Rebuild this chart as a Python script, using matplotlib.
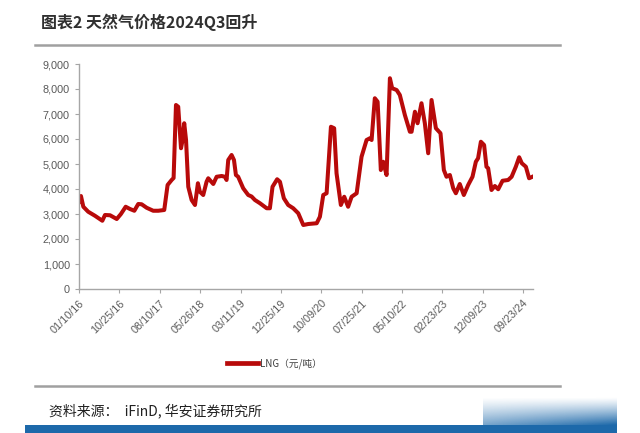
import numpy as np
import pandas as pd
import matplotlib.pyplot as plt
from matplotlib.ticker import FuncFormatter

plt.rcParams['font.family'] = ['Noto Sans CJK SC', 'DejaVu Sans']

# LNG price (元/吨)
dates = [
    "2016-01-10", "2016-01-24", "2016-02-10", "2016-03-16", "2016-05-03", "2016-06-25",
    "2016-07-14", "2016-08-19", "2016-10-06", "2016-11-05", "2016-12-09", "2017-01-09",
    "2017-02-09", "2017-03-09", "2017-04-02", "2017-05-08", "2017-06-24", "2017-07-30",
    "2017-09-11", "2017-10-05", "2017-11-03", "2017-11-17", "2017-12-04", "2017-12-20",
    "2018-01-09", "2018-01-18", "2018-02-01", "2018-02-14", "2018-03-02", "2018-03-26",
    "2018-04-19", "2018-05-10", "2018-05-24", "2018-06-17", "2018-07-11", "2018-07-23",
    "2018-08-28", "2018-09-21", "2018-10-27", "2018-11-19", "2018-12-01", "2018-12-13",
    "2019-01-06", "2019-01-23", "2019-02-06", "2019-02-22", "2019-03-30", "2019-05-05",
    "2019-05-29", "2019-06-22", "2019-07-28", "2019-09-14", "2019-10-07", "2019-10-26",
    "2019-11-28", "2019-12-18", "2020-01-15", "2020-02-15", "2020-03-22", "2020-04-27",
    "2020-06-02", "2020-07-08", "2020-09-06", "2020-09-29", "2020-10-23", "2020-11-16",
    "2020-12-17", "2021-01-09", "2021-01-26", "2021-02-26", "2021-03-22", "2021-04-19",
    "2021-05-14", "2021-06-19", "2021-07-24", "2021-08-29", "2021-09-22", "2021-10-04",
    "2021-10-27", "2021-11-16", "2021-12-09", "2021-12-26", "2022-01-19", "2022-02-12",
    "2022-02-28", "2022-04-01", "2022-04-24", "2022-05-30", "2022-07-05", "2022-07-17",
    "2022-08-10", "2022-08-29", "2022-09-26", "2022-10-20", "2022-11-13", "2022-12-07",
    "2023-01-07", "2023-02-09", "2023-03-05", "2023-03-24", "2023-04-17", "2023-05-11",
    "2023-05-30", "2023-06-27", "2023-07-26", "2023-08-26", "2023-09-26", "2023-10-20",
    "2023-11-05", "2023-11-25", "2023-12-18", "2024-01-04", "2024-01-16", "2024-02-09",
    "2024-03-04", "2024-03-28", "2024-04-28", "2024-06-07", "2024-07-02", "2024-08-01",
    "2024-08-25", "2024-09-13", "2024-10-12", "2024-11-04", "2024-11-28",
]
lng = [
    3490, 3720, 3290, 3090, 2930, 2730,
    2960, 2950, 2800, 3000, 3290, 3200,
    3130, 3400, 3390, 3250, 3130, 3130,
    3160, 4160, 4360, 4440, 7360, 7290,
    5630, 5890, 6630, 5960, 4090, 3560,
    3360, 4230, 3890, 3760, 4290, 4430,
    4200, 4490, 4520, 4490, 4360, 5160,
    5360, 5160, 4560, 4490, 4030, 3760,
    3700, 3560, 3430, 3230, 3230, 4090,
    4390, 4290, 3630, 3360, 3230, 3030,
    2560, 2600, 2630, 2890, 3760, 3830,
    6490, 6430, 4630, 3360, 3690, 3290,
    3690, 3830, 5290, 5960, 6030, 5960,
    7630, 7490, 4760, 5090, 4560, 8430,
    8030, 7960, 7760, 6960, 6290, 6290,
    7090, 6630, 7430, 6630, 5430, 7560,
    6430, 6230, 4760, 4490, 4560, 4030,
    3830, 4200, 3760, 4160, 4490, 5090,
    5230, 5890, 5760, 4890, 4830, 3960,
    4120, 3990, 4330, 4360, 4490, 4890,
    5270, 5030, 4890, 4430, 4490,
]
tick_dates = ["2016-01-10", "2016-10-25", "2017-08-10", "2018-05-26", "2019-03-11",
              "2019-12-25", "2020-10-09", "2021-07-25", "2022-05-10", "2023-02-23",
              "2023-12-09", "2024-09-23"]

x = pd.to_datetime(dates)
ticks = pd.to_datetime(tick_dates)

fig = plt.figure(figsize=(6.4, 4.33), dpi=100)
ax = fig.add_axes([79 / 640, 1 - 289 / 433, (533 - 79) / 640, (289 - 64) / 433])

ax.plot(x, lng, color="#B80A0A", linewidth=2.9, solid_joinstyle="round",
        label="LNG（元/吨）")

ax.set_ylim(0, 9000)
ax.set_yticks(range(0, 9001, 1000))
ax.yaxis.set_major_formatter(FuncFormatter(lambda v, _: f"{int(v):,}"))
ax.set_xlim(ticks[0], pd.Timestamp("2024-12-02"))
ax.set_xticks(ticks)
ax.set_xticklabels([t.strftime("%m/%d/%y") for t in ticks], rotation=45,
                   ha="right", va="top", rotation_mode="anchor")

for side in ["top", "right"]:
    ax.spines[side].set_visible(False)
for side in ["left", "bottom"]:
    ax.spines[side].set_color("#A6A6A6")
    ax.spines[side].set_linewidth(1.0)
ax.tick_params(colors="#A6A6A6", labelcolor="#595959", length=3, width=0.8,
               labelsize=7.8)
for lbl in ax.get_xticklabels() + ax.get_yticklabels():
    lbl.set_family(["Liberation Sans", "DejaVu Sans"])

leg = ax.legend(loc="upper center", bbox_to_anchor=(0.5 - 0.07, -0.27), frameon=False,
                fontsize=7, handlelength=3.2, handletextpad=0.2)
for t in leg.get_texts():
    t.set_color("#404040")
for h in leg.get_lines():
    h.set_linewidth(3.4)

# title and rules
fig.text(41 / 640, 1 - 22 / 433, "图表2 天然气价格2024Q3回升", fontsize=11.5,
         color="#303030", va="center", ha="left", fontweight="bold")
fig.add_artist(plt.Line2D([35 / 640, 560 / 640], [1 - 45 / 433] * 2,
                          color="#A0A0A0", linewidth=1.8))
fig.add_artist(plt.Line2D([35 / 640, 560 / 640], [1 - 386 / 433] * 2,
                          color="#A0A0A0", linewidth=1.8))
fig.text(49 / 640, 1 - 411 / 433, "资料来源：  iFinD, 华安证券研究所", fontsize=10,
         color="#202020", va="center", ha="left", style="italic")

# blue footer band with gradient block
band = fig.add_axes([25 / 640, 0, (617 - 25) / 640, 8 / 433])
band.set_axis_off()
band.add_patch(plt.Rectangle((0, 0), 1, 1, color="#1D69AA", transform=band.transAxes))
grad = fig.add_axes([483 / 640, 8 / 433, (617 - 483) / 640, 28 / 433])
grad.set_axis_off()
gy = np.linspace(0, 1, 50)[:, None]
gx = np.linspace(0.6, 1, 100)[None, :]
alpha = ((1 - gy) ** 1.2) * gx
img = np.zeros((50, 100, 4))
img[..., 0] = 0x1D / 255
img[..., 1] = 0x69 / 255
img[..., 2] = 0xAA / 255
img[..., 3] = alpha
grad.imshow(img, origin="lower", aspect="auto", extent=(0, 1, 0, 1))

fig.savefig("out.png", dpi=100)
